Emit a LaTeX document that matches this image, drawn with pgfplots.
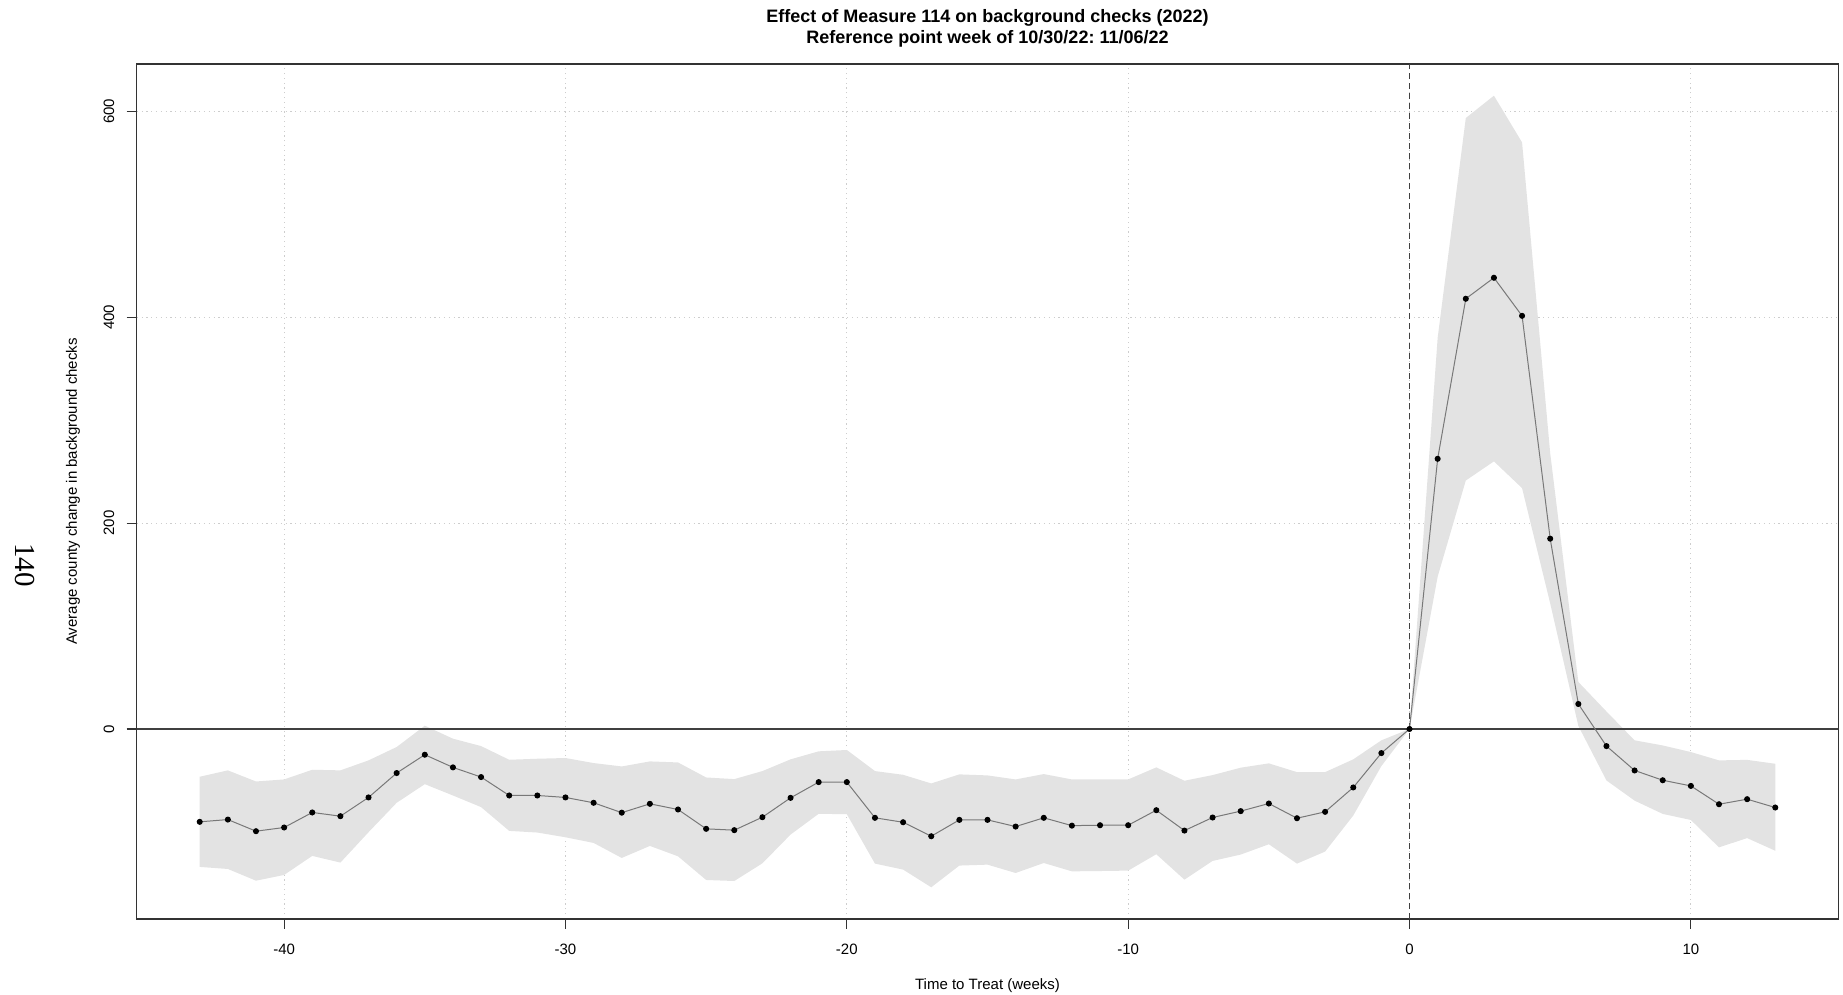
\documentclass[border=0pt]{standalone}
\usepackage{fontspec}
\setmainfont{Liberation Sans}
\newfontfamily\seriffont{Liberation Serif}
\usepackage{pgfplots}
\usepgfplotslibrary{fillbetween}
\pgfplotsset{compat=1.18}
\usepackage{pgfplotstable}
\definecolor{bandgray}{RGB}{227,227,227}
\definecolor{gridgray}{RGB}{205,205,205}
\definecolor{linegray}{RGB}{120,120,120}
\frenchspacing
\pgfplotstableread{
x est lo hi
-43 -90.2 -134.0 -46.4
-42 -88.0 -136.0 -40.2
-41 -99.3 -147.4 -51.0
-40 -95.7 -141.8 -49.0
-39 -81.1 -123.3 -39.6
-38 -84.7 -129.8 -40.2
-37 -66.5 -100.3 -30.5
-36 -42.8 -71.7 -17.5
-35 -25.0 -53.6 3.2
-34 -37.3 -64.6 -9.4
-33 -46.7 -75.9 -16.6
-32 -64.6 -99.0 -29.9
-31 -64.6 -100.6 -28.9
-30 -66.5 -105.2 -28.2
-29 -71.7 -110.7 -33.1
-28 -81.3 -125.3 -36.4
-27 -72.7 -113.6 -31.5
-26 -78.2 -123.7 -32.5
-25 -97.0 -146.7 -47.1
-24 -98.3 -147.7 -48.7
-23 -85.7 -130.5 -40.9
-22 -66.9 -102.6 -29.5
-21 -51.6 -82.4 -21.7
-20 -51.6 -82.8 -20.4
-19 -86.3 -130.8 -40.9
-18 -90.6 -136.6 -44.5
-17 -104.2 -153.8 -52.9
-16 -88.3 -132.7 -44.1
-15 -88.3 -131.8 -45.1
-14 -94.8 -139.9 -49.0
-13 -86.3 -130.2 -43.8
-12 -93.9 -138.3 -49.0
-11 -93.5 -138.0 -49.0
-10 -93.5 -137.6 -49.0
-9 -78.9 -121.7 -37.3
-8 -98.7 -146.4 -50.3
-7 -86.0 -128.2 -44.8
-6 -79.8 -122.0 -37.6
-5 -72.4 -112.0 -33.4
-4 -86.7 -130.8 -41.9
-3 -80.5 -119.1 -41.9
-2 -56.8 -84.1 -29.5
-1 -23.4 -36.0 -11.0
0 0.0 0.0 0.0
1 262.5 148.0 380.0
2 418.0 241.4 593.6
3 438.4 260.0 615.3
4 401.4 234.0 569.9
5 184.9 122.0 268.0
6 24.3 3.0 45.7
7 -16.6 -50.0 17.0
8 -40.3 -69.6 -11.0
9 -49.8 -82.5 -16.0
10 -55.3 -88.4 -22.4
11 -73.1 -115.0 -30.5
12 -68.2 -106.0 -30.0
13 -76.3 -118.3 -33.8
}\data

\begin{document}
\frenchspacing
\begin{tikzpicture}
\begin{axis}[
  at={(0pt,0pt)}, anchor=south west,
  scale only axis, width=850.8pt, height=427.5pt,
  xmin=-45.24, xmax=15.24, ymin=-184.6, ymax=646.1,
  xtick={-40,-30,-20,-10,0,10}, ytick={0,200,400,600},
  xtick pos=left, ytick pos=left,
  tick align=outside, major tick length=5pt,
  tick style={black!80, line width=0.6pt},
  axis line style={black!80, line width=0.6pt},
  grid=major,
  major grid style={gridgray, line width=0.6pt, dash pattern=on 0.6pt off 1.8pt},
  ticklabel style={font=\fontsize{7.5}{9}\selectfont},
  /pgf/number format/assume math mode=true,
  xticklabel style={anchor=center, yshift=-10pt},
  yticklabel style={rotate=90, anchor=center, yshift=8.9pt},
  xlabel={Time to Treat (weeks)},
  ylabel={Average county change in background checks},
  every axis x label/.style={at={(axis description cs:0.5,0)}, anchor=center, inner sep=0pt, yshift=-33.3pt, font=\fontsize{7.5}{9}\selectfont},
  every axis y label/.style={at={(axis description cs:0,0.5)}, anchor=center, inner sep=0pt, rotate=90, yshift=31.8pt, font=\fontsize{7.5}{9}\selectfont},
]
\addplot[name path=hi, draw=none, forget plot] table[x=x, y=hi]{\data};
\addplot[name path=lo, draw=none, forget plot] table[x=x, y=lo]{\data};
\addplot[fill=bandgray, draw=none, forget plot] fill between[of=hi and lo];
\addplot[black!75, line width=0.6pt, forget plot] coordinates {(-45.24,0) (15.24,0)};
\addplot[black!75, line width=0.6pt, dash pattern=on 3pt off 2pt, forget plot] coordinates {(0,-184.6) (0,646.1)};
\addplot[linegray, line width=0.5pt, mark=*, mark size=1.25pt, mark options={black, fill=black, solid}] table[x=x, y=est]{\data};
\end{axis}
\node[font=\fontsize{9}{11}\selectfont\bfseries, anchor=center, inner sep=0pt] at (425.4pt,450.7pt) {Effect of Measure 114 on background checks (2022)};
\node[font=\fontsize{9}{11}\selectfont\bfseries, anchor=center, inner sep=0pt] at (425.4pt,440.1pt) {Reference point week of 10/30/22: 11/06/22};
\node[font=\seriffont\fontsize{14.5}{16}\selectfont, rotate=-90, anchor=center, inner sep=0pt] at (-55.85pt,177pt) {140};
\pgfresetboundingbox
\path[use as bounding box] (-68.35pt,-38pt) rectangle (853.15pt,459.5pt);
\end{tikzpicture}
\end{document}
